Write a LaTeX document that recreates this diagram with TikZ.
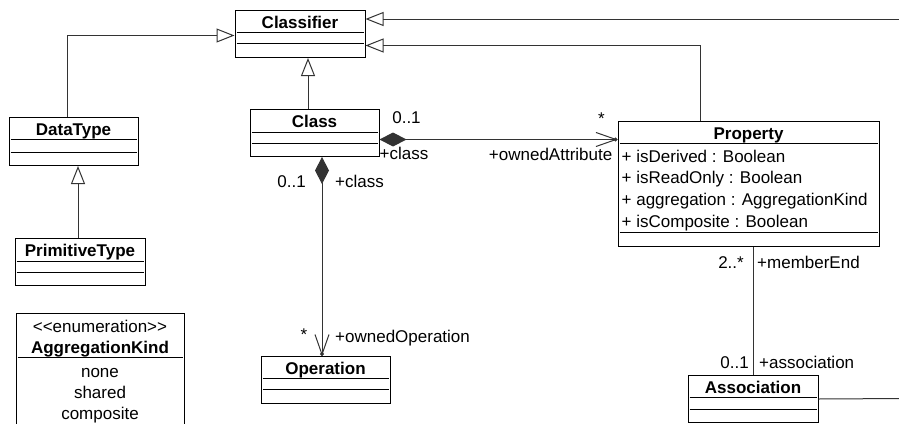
\documentclass[tikz,border=0pt]{standalone}
\usepackage{fontspec}
\setmainfont{Liberation Sans}
\usetikzlibrary{arrows.meta,calc}

\begin{document}
\begin{tikzpicture}[
  x=1pt, y=-1pt,
  every node/.style={font=\fontsize{17pt}{21pt}\selectfont},
  cls/.style={draw, line width=1pt, font=\fontsize{17pt}{21pt}\selectfont\bfseries,
              minimum width=130pt, inner xsep=0pt, inner ysep=2pt,
              text height=16pt, text depth=27pt, anchor=north},
  lbl/.style={inner sep=0pt},
  link/.style={line width=1pt, black!80},
  gen/.style={link, -{Triangle[open, length=18pt, width=14pt]}},
  comp/.style={link, {Diamond[length=27pt, width=14pt]}-{Straight Barb[length=20pt, width=14pt, sep=-4pt] Circle[length=4pt]}}
]
\useasboundingbox (0,0) rectangle (899,423);
\clip (0,0) rectangle (899,423);

% classes
\node[cls] (classifier) at (300,10) {Classifier};
\node[cls, minimum width=129pt, text depth=28pt] (datatype) at (73.5,117) {DataType};
\node[cls, minimum width=129pt] (class) at (314.5,109) {Class};
\node[cls] (primtype) at (80,238) {PrimitiveType};
\node[cls, minimum width=129pt] (operation) at (325.5,356) {Operation};
\node[cls, minimum width=261pt, text depth=105pt] (property) at (748.5,121) {Property};
\node[cls] (association) at (753,375) {Association};
\node[cls, minimum width=168pt, minimum height=130pt] (aggkind) at (100,313) {};

% compartments
\foreach \n/\o in {classifier/22, classifier/33, datatype/22, datatype/35, class/23, class/34,
                   primtype/23, primtype/34, operation/22, operation/33, property/22, property/111,
                   association/22, association/34, aggkind/44}
  \draw[line width=1pt] ($(\n.north west)+(2,\o)$) -- ($(\n.north east)+(-2,\o)$);

% attributes
\foreach \t [count=\i from 0] in {{+ isDerived : Boolean}, {+ isReadOnly : Boolean},
                                  {+ aggregation : AggregationKind}, {+ isComposite : Boolean}}
  \node[lbl, anchor=base west] (attr\i) at ($(property.north west)+(4,41+21.7*\i)$) {\t};

% enumeration
\node[lbl, anchor=base] (stereo) at ($(aggkind.north)+(0,19)$) {<{}<enumeration>{}>};
\node[lbl, anchor=base, font=\fontsize{17pt}{21pt}\selectfont\bfseries] (aggname) at ($(aggkind.north)+(0,40)$) {AggregationKind};
\foreach \t [count=\i from 0] in {none, shared, composite}
  \node[lbl, anchor=base] (lit\i) at ($(aggkind.north)+(0,64+21*\i)$) {\t};

% generalizations
\coordinate (rightedge) at (905,19);
\draw[gen] (rightedge) -- (rightedge -| classifier.east);
\draw[gen] ([xshift=-48.5pt]property.north) |- ([yshift=-11.5pt]classifier.east);
\draw[gen] ([xshift=-6.5pt]datatype.north) |- ([yshift=-1.5pt]classifier.west);
\draw[gen] ([xshift=-6.5pt]class.north) -- ([xshift=-6.5pt]class.north |- classifier.south);
\draw[gen] ([xshift=-2pt]primtype.north) -- ([xshift=-2pt]primtype.north |- datatype.south);

% compositions
\draw[comp] ([yshift=-6.5pt]class.east) -- ([yshift=-6.5pt]class.east -| property.west);
\draw[comp] ([xshift=7.5pt]class.south) -- ([xshift=7.5pt]class.south |- operation.north);

% association ends
\coordinate (assocout) at (905,398.5);
\draw[link] (association.north |- property.south) -- (association.north);
\draw[link] (association.east) -- (assocout);

% role names and multiplicities
\node[lbl, anchor=base] (m-cls-prop) at ($(class.north east)+(27,14)$) {0..1};
\node[lbl, anchor=base west] (r-cls-prop) at ($(class.north east)+(0,50)$) {+class};
\node[lbl, anchor=base] (m-prop) at ($(property.north west)+(-16,3)$) {*};
\node[lbl, anchor=base east] (r-prop) at ($(property.north west)+(-5,39)$) {+ownedAttribute};
\node[lbl, anchor=base east] (m-cls-op) at ($(class.south)+(-8.5,30)$) {0..1};
\node[lbl, anchor=base west] (r-cls-op) at ($(class.south)+(20.5,30)$) {+class};
\node[lbl, anchor=base] (m-op) at ($(operation.north)+(-21.5,-16)$) {*};
\node[lbl, anchor=base west] (r-op) at ($(operation.north)+(9.5,-14)$) {+ownedOperation};
\node[lbl, anchor=base east] (m-member) at ($(property.south)+(-4.5,21)$) {2..*};
\node[lbl, anchor=base west] (r-member) at ($(property.south)+(8.5,21)$) {+memberEnd};
\node[lbl, anchor=base east] (m-assoc) at ($(association.north)+(-4,-7)$) {0..1};
\node[lbl, anchor=base west] (r-assoc) at ($(association.north)+(6,-7)$) {+association};
\end{tikzpicture}
\end{document}
